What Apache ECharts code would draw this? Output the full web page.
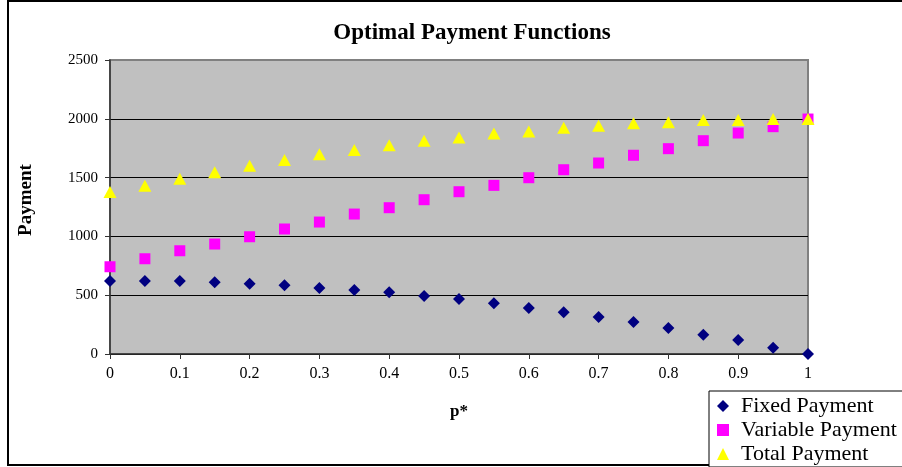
<!DOCTYPE html>
<html>
<head>
<meta charset="utf-8">
<script src="https://cdn.jsdelivr.net/npm/echarts@6/dist/echarts.min.js"></script>
<style>
html,body{margin:0;padding:0;background:#fff;}
#chart{width:902px;height:467px;}
</style>
</head>
<body>
<div id="chart"></div>
<script>
const pValues = [0,0.05,0.1,0.15,0.2,0.25,0.3,0.35,0.4,0.45,0.5,0.55,0.6,0.65,0.7,0.75,0.8,0.85,0.9,0.95,1];
const fixedPayment = [621,621,621,610,598,584,561,544,525,493,468,431,391,355,315,272,221,164,119,54,0];
const variablePayment = [742,810,878,935,997,1063,1122,1190,1244,1312,1380,1434,1499,1567,1624,1690,1746,1814,1879,1933,1998];
const totalPayment = [1378,1431,1491,1545,1601,1650,1698,1735,1775,1814,1842,1876,1893,1924,1941,1962,1970,1990,1990,1998,1998];
const seriesNames = ['Fixed Payment','Variable Payment','Total Payment'];

const pair = arr => pValues.map((p,i)=>[p,arr[i]]);
const serif = '"Liberation Serif","Times New Roman",serif';

const chart = echarts.init(document.getElementById('chart'), null, {renderer:'canvas'});
chart.setOption({
  animation:false,
  backgroundColor:'#fff',
  title:{
    text:'Optimal Payment Functions',
    left:467, top:17, textAlign:'center',
    textStyle:{fontFamily:serif, fontWeight:'bold', fontSize:23, color:'#000'}
  },
  grid:{
    left:110, top:60, width:698, height:294,
    show:true, backgroundColor:'#C0C0C0', borderColor:'#808080', borderWidth:2
  },
  xAxis:{
    type:'value', min:0, max:1, interval:0.1,
    name:'p*', nameLocation:'middle', nameGap:49,
    nameTextStyle:{fontFamily:serif, fontWeight:'bold', fontSize:17, color:'#000'},
    axisLine:{show:true, lineStyle:{color:'#333', width:1.5}},
    axisTick:{show:true, inside:false, length:5, lineStyle:{color:'#333'}},
    axisLabel:{fontFamily:serif, fontSize:16, color:'#000', margin:12,
      formatter: v => String(Math.round(v*10)/10)},
    splitLine:{show:false}
  },
  yAxis:{
    type:'value', min:0, max:2500, interval:500,
    name:'Payment', nameLocation:'middle', nameGap:74, nameRotate:90,
    nameTextStyle:{fontFamily:serif, fontWeight:'bold', fontSize:19, color:'#000', padding:[0,0,0,14]},
    axisLine:{show:true, lineStyle:{color:'#333', width:1.5}},
    axisTick:{show:true, inside:false, length:5, lineStyle:{color:'#333'}},
    axisLabel:{fontFamily:serif, fontSize:15, color:'#000', margin:12,
      formatter: v => String(v)},
    splitLine:{show:true, showMaxLine:false, lineStyle:{color:'#000', width:1}}
  },
  legend:{
    orient:'vertical', left:709, top:391, height:72,
    data:[
      {name:seriesNames[0], icon:'diamond'},
      {name:seriesNames[1], icon:'rect'},
      {name:seriesNames[2], icon:'triangle'}
    ],
    itemWidth:12, itemHeight:12, itemGap:2,
    padding:[4,60,2,8],
    borderColor:'#000', borderWidth:1, backgroundColor:'#fff',
    textStyle:{fontFamily:serif, fontSize:22, lineHeight:21, color:'#000', padding:[0,0,0,7]}
  },
  graphic:[{
    type:'rect', silent:true, z:-1,
    shape:{x:8, y:1, width:900, height:464},
    style:{fill:null, stroke:'#000', lineWidth:2}
  }],
  series:[
    {name:seriesNames[0], type:'scatter', symbol:'diamond', symbolSize:[12,12],
     itemStyle:{color:'#000080', opacity:1}, data:pair(fixedPayment)},
    {name:seriesNames[1], type:'scatter', symbol:'rect', symbolSize:[11,11],
     itemStyle:{color:'#FF00FF', opacity:1}, data:pair(variablePayment)},
    {name:seriesNames[2], type:'scatter', symbol:'triangle', symbolSize:[13,12],
     itemStyle:{color:'#FFFF00', opacity:1}, data:pair(totalPayment)}
  ]
});
</script>
</body>
</html>
